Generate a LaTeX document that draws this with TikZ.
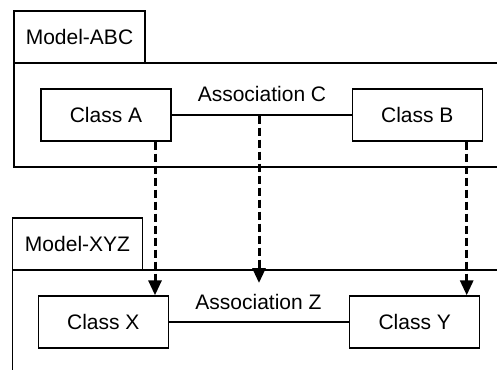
\documentclass[tikz,border=0pt]{standalone}
\usepackage{fontspec}
\setmainfont{Liberation Sans}
\usetikzlibrary{arrows.meta}

\begin{document}
\begin{tikzpicture}[x=1pt, y=-1pt, line width=1.4pt, font=\fontsize{21}{25}\selectfont,
    classbox/.style={draw, rectangle, minimum width=130pt, minimum height=52pt, inner sep=0pt},
    tabbox/.style={draw, rectangle, minimum width=130pt, minimum height=52pt, inner sep=0pt},
    dep/.style={line width=3pt, dash pattern=on 8pt off 4pt, -{Triangle[width=13pt, length=15pt]}}]
\useasboundingbox (0, 0) rectangle (497, 370);
    % package Model-ABC
    \node[tabbox, minimum width=131pt] (tabABC) at (79.5, 37) {Model-ABC};
    \draw (497, 63) -- (14, 63) -- (14, 167) -- (497, 167);
    \node[classbox] (classA) at (106, 115) {Class A};
    \node[classbox] (classB) at (417.3, 115) {Class B};
    \draw (classA) -- (classB);
    \node (labC) at (262, 94) {Association C};
    % package Model-XYZ
    \node[tabbox] (tabXYZ) at (77.5, 244) {Model-XYZ};
    \draw (497, 270) -- (12.7, 270) -- (12.7, 370);
    \node[classbox] (classX) at (103.3, 322) {Class X};
    \node[classbox] (classY) at (414.7, 322) {Class Y};
    \draw (classX) -- (classY);
    \node (labZ) at (258.5, 301.7) {Association Z};
    % mappings
    \coordinate (assocC) at (259, 115.7);
    \coordinate (assocZ) at (259, 283);
    \draw[dep] ([xshift=49pt]classA.south) -- ([xshift=51.7pt]classX.north);
    \draw[dep] (assocC) -- (assocZ);
    \draw[dep] ([xshift=49.4pt]classB.south) -- ([xshift=52pt]classY.north);
\end{tikzpicture}
\end{document}
